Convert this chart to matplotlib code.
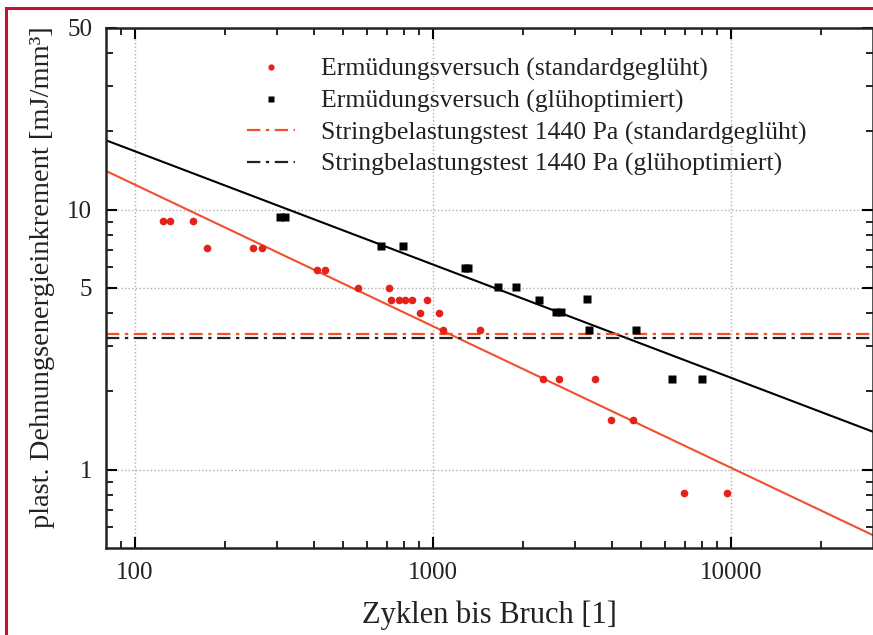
import matplotlib

matplotlib.use("Agg")
import matplotlib.pyplot as plt
from matplotlib.lines import Line2D
from matplotlib.ticker import FixedLocator, NullFormatter

plt.rcParams["font.family"] = ["Liberation Serif", "DejaVu Serif"]

# Ermüdungsversuch (standardgeglüht)
STD_N = [124, 131, 157, 175, 250, 267, 408, 433, 560, 714,
         722, 769, 806, 853, 957, 905, 1047, 1082, 1435,
         2338, 2645, 3500, 3962, 4713, 6979, 9727]
STD_E = [9.07, 9.07, 9.07, 7.11, 7.11, 7.11, 5.87, 5.87, 4.99, 4.99,
         4.49, 4.49, 4.49, 4.49, 4.49, 3.99, 3.99, 3.44, 3.44,
         2.23, 2.23, 2.23, 1.55, 1.55, 0.813, 0.813]

# Ermüdungsversuch (glühoptimiert)
OPT_N = [308, 320, 670, 796, 1279, 1313, 1654, 1905, 2267, 2592,
         2692, 3289, 3333, 4798, 6367, 8017]
OPT_E = [9.34, 9.34, 7.24, 7.24, 5.96, 5.96, 5.03, 5.03, 4.51, 4.03,
         4.03, 4.53, 3.45, 3.45, 2.23, 2.23]

# Ausgleichsgeraden (Endpunkte)
FIT_N = [80, 30000]
FIT_STD_E = [14.1, 0.56]
FIT_OPT_E = [18.5, 1.40]

# Stringbelastungstest 1440 Pa
STRING_STD_E = 3.34
STRING_OPT_E = 3.20

RED_DOT = "#e3221b"
RED_LINE = "#f0502d"
DASHDOT = (0, (6, 2.5, 1.5, 2.5))

fig = plt.figure(figsize=(8.73, 6.35), dpi=100)
ax = fig.add_axes([106 / 873, 1 - 548 / 635, 767 / 873, 520 / 635])

ax.plot(FIT_N, FIT_STD_E, color=RED_LINE, lw=1.5, zorder=2)
ax.plot(FIT_N, FIT_OPT_E, color="black", lw=1.5, zorder=2)
ax.axhline(STRING_STD_E, color=RED_LINE, lw=1.6, ls=DASHDOT, zorder=2)
ax.axhline(STRING_OPT_E, color="#222222", lw=1.6, ls=DASHDOT, zorder=2)
ax.plot(STD_N, STD_E, "o", color=RED_DOT, ms=5.5, mec="none", zorder=3)
ax.plot(OPT_N, OPT_E, "s", color="black", ms=5.5, mec="none", zorder=3)

ax.set_xscale("log")
ax.set_yscale("log")
ax.set_xlim(80, 30000)
ax.set_ylim(0.5, 50)

ax.xaxis.set_major_locator(FixedLocator([100, 1000, 10000]))
ax.xaxis.set_minor_locator(FixedLocator(
    [90] + [k * 10 ** e for e in (2, 3) for k in range(2, 10)] + [20000]))
ax.yaxis.set_major_locator(FixedLocator([1, 5, 10, 50]))
ax.yaxis.set_minor_locator(FixedLocator(
    [0.6, 0.7, 0.8, 0.9, 2, 3, 4, 6, 7, 8, 9, 20, 30, 40]))
ax.set_xticklabels(["100", "1000", "10000"])
ax.set_yticklabels(["1", "5", "10", "50"])
ax.xaxis.set_minor_formatter(NullFormatter())
ax.yaxis.set_minor_formatter(NullFormatter())

ax.tick_params(which="both", direction="in", top=True, right=True,
               labelsize=18, labelcolor="#222222")
ax.tick_params(which="major", length=8, width=1.5, pad=10)
ax.tick_params(which="minor", length=5, width=1.2)
for s in ax.spines.values():
    s.set_linewidth(1.8)
    s.set_color("#222222")

ax.grid(True, which="major", ls=":", color="#b0b0b0", lw=1.0)

ax.set_xlabel("Zyklen bis Bruch [1]", fontsize=22, labelpad=12, color="#222222")
ax.set_ylabel("plast. Dehnungsenergieinkrement [mJ/mm³]", fontsize=20.5,
              color="#222222")
ax.yaxis.set_label_coords(-0.067, 0.52)

handles = [
    Line2D([], [], ls="none", marker="o", color=RED_DOT, ms=4.5, mec="none"),
    Line2D([], [], ls="none", marker="s", color="black", ms=4.5, mec="none"),
    Line2D([], [], color=RED_LINE, lw=1.6, ls=DASHDOT),
    Line2D([], [], color="#222222", lw=1.6, ls=DASHDOT),
]
labels = [
    "Ermüdungsversuch (standardgeglüht)",
    "Ermüdungsversuch (glühoptimiert)",
    "Stringbelastungstest 1440 Pa (standardgeglüht)",
    "Stringbelastungstest 1440 Pa (glühoptimiert)",
]
leg = ax.legend(handles, labels, loc="upper left", bbox_to_anchor=(0.17, 0.962),
                frameon=False, fontsize=18.5, handlelength=1.9, handletextpad=1.0,
                labelspacing=0.32, borderaxespad=0)
for t in leg.get_texts():
    t.set_color("#222222")

# roter Rahmen
frame_color = "#c8102e"
fig.add_artist(Line2D([6 / 873, 6 / 873], [0, 1 - 8 / 635], color=frame_color, lw=2.2,
                      transform=fig.transFigure))
fig.add_artist(Line2D([6 / 873, 1], [1 - 8 / 635, 1 - 8 / 635], color=frame_color, lw=2.2,
                      transform=fig.transFigure))

fig.savefig("out.png", dpi=100)
